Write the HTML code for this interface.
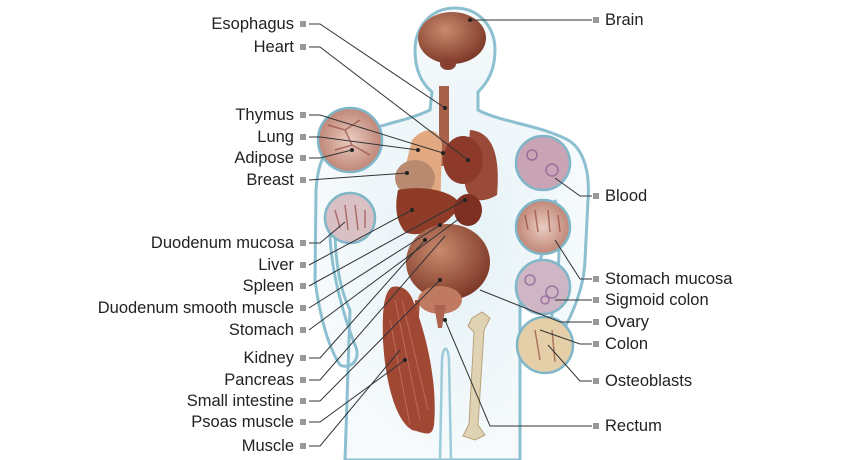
<!DOCTYPE html>
<html><head><meta charset="utf-8"><style>
html,body{margin:0;padding:0;background:#fff;}
#w{position:relative;width:860px;height:460px;overflow:hidden;font-family:"Liberation Sans",sans-serif;}
.l{position:absolute;font-size:16.5px;color:#222;line-height:20px;white-space:nowrap;}
.L{right:566px;text-align:right;}
.R{left:605px;}
</style></head><body><div id="w">
<svg width="860" height="460" style="position:absolute;left:0;top:0">
<defs>
<radialGradient id="glow" cx="50%" cy="50%" r="50%"><stop offset="0" stop-color="#e4f1f6"/><stop offset="1" stop-color="#f6fafc"/></radialGradient>
<radialGradient id="org" cx="40%" cy="35%" r="70%"><stop offset="0" stop-color="#c98a6e"/><stop offset="1" stop-color="#7a3524"/></radialGradient>
<radialGradient id="cir" cx="50%" cy="50%" r="50%"><stop offset="0" stop-color="#e9cdc2"/><stop offset="1" stop-color="#c08676"/></radialGradient>
</defs>
<path d="M455,8 C480,8 495,28 495,50 C495,70 488,82 478,92 L478,110 C500,122 540,125 568,140 C585,150 590,175 588,200 L585,260 C584,290 570,320 560,335 L552,340 C548,320 556,300 558,280 L560,220 L555,200 C548,240 540,270 520,300 L520,460 L345,460 L350,310 C340,290 335,260 335,230 L330,230 C330,270 345,320 355,345 C362,360 350,370 340,365 C330,350 320,320 315,280 L316,190 C318,160 325,145 350,135 C380,125 410,120 430,110 L432,92 C420,82 415,68 415,50 C415,28 430,8 455,8 Z" fill="url(#glow)" stroke="#8cc0d0" stroke-width="3"/>
<path d="M440,460 L442,360 C443,345 448,345 449,360 L451,460" fill="none" stroke="#9ccbd9" stroke-width="2.5"/>
<ellipse cx="452" cy="38" rx="34" ry="26" fill="url(#org)"/>
<ellipse cx="448" cy="64" rx="8" ry="6" fill="#8a4030"/>
<rect x="439" y="86" width="10" height="80" fill="#a7604a"/>
<path d="M412,140 C425,125 440,128 442,145 L440,215 C425,215 405,205 402,180 Z" fill="#e2a882"/>
<path d="M470,130 C495,132 500,160 497,195 C480,205 468,200 465,185 Z" fill="#9a4a38"/>
<ellipse cx="463" cy="160" rx="20" ry="24" fill="#8e3a2a"/>
<ellipse cx="415" cy="178" rx="20" ry="18" fill="#b98970"/>
<path d="M398,190 C420,185 455,190 460,205 C450,225 420,240 405,232 C395,220 395,205 398,190 Z" fill="#8e3c28"/>
<ellipse cx="468" cy="210" rx="14" ry="16" fill="#7d2f22"/>
<ellipse cx="450" cy="236" rx="22" ry="9" fill="#dba98c"/>
<ellipse cx="448" cy="262" rx="42" ry="38" fill="url(#org)"/>
<ellipse cx="440" cy="300" rx="22" ry="14" fill="#c07a62"/>
<path d="M434,305 L446,305 L442,328 L438,328 Z" fill="#b06250"/>
<path d="M415,300 L420,300 L418,330 L413,330 Z" fill="#a7503c"/>
<path d="M392,287 C402,285 408,290 412,298 C425,330 438,380 434,425 C432,438 425,433 412,430 C395,420 385,380 383,340 C382,310 384,292 392,287 Z" fill="#a14835"/>
<g stroke="#c27662" stroke-width="1" opacity="0.8"><line x1="395" y1="300" x2="420" y2="420"/><line x1="402" y1="300" x2="428" y2="410"/><line x1="390" y1="320" x2="410" y2="425"/></g>
<path d="M472,318 L482,312 L490,318 L484,330 L478,425 L485,435 L475,440 L463,436 L469,424 L474,332 L468,326 Z" fill="#e0d3b3" stroke="#b8a27c"/>
<g stroke="#7fb6c8" stroke-width="2.5">
<circle cx="350" cy="140" r="32" fill="url(#cir)"/>
<circle cx="350" cy="218" r="25" fill="#d9c0c4"/>
<circle cx="543" cy="163" r="27" fill="#c9a4b4"/>
<circle cx="543" cy="227" r="27" fill="url(#cir)"/>
<circle cx="543" cy="287" r="27" fill="#cfb6c4"/>
<circle cx="545" cy="345" r="28" fill="#e4cfa8"/>
</g>
<g fill="none" stroke="#8c3a2e" stroke-width="1.5" opacity="0.6">
<path d="M328,125 L345,130 L360,120 M335,150 L352,145 L370,155 M345,130 L352,145"/>
<path d="M335,210 L340,228 M345,205 L348,230 M355,205 L358,230 M365,210 L365,228"/>
<path d="M525,215 L528,230 M535,210 L538,232 M548,210 L550,232 M558,215 L560,232"/>
<path d="M535,330 L540,360 M552,330 L555,362"/>
</g>
<g fill="none" stroke="#7d4a8a" stroke-width="1.5" opacity="0.6">
<circle cx="532" cy="155" r="5"/><circle cx="552" cy="170" r="6"/><circle cx="530" cy="280" r="5"/><circle cx="552" cy="292" r="6"/><circle cx="545" cy="300" r="4"/>
</g>
<g stroke="#333" stroke-width="1" fill="none">
<polyline points="309,24 320,24 445,108"/>
<polyline points="309,47 320,47 468,160"/>
<polyline points="309,115 320,115 443,153"/>
<polyline points="309,137 320,137 418,150"/>
<polyline points="309,158 320,158 352,150"/>
<polyline points="309,180 407,173"/>
<polyline points="309,243 320,243 345,222"/>
<polyline points="309,265 412,210"/>
<polyline points="309,286 465,200"/>
<polyline points="309,308 440,225"/>
<polyline points="309,330 460,218"/>
<polyline points="309,358 320,358 425,240"/>
<polyline points="309,380 320,380 445,236"/>
<polyline points="309,401 320,401 440,280"/>
<polyline points="309,422 320,422 405,360"/>
<polyline points="309,446 320,446 400,350"/>
<polyline points="470,20 592,20"/>
<polyline points="555,178 580,196 592,196"/>
<polyline points="555,240 580,279 592,279"/>
<polyline points="555,300 580,300 592,300"/>
<polyline points="480,290 560,322 592,322"/>
<polyline points="540,330 580,344 592,344"/>
<polyline points="548,345 580,381 592,381"/>
<polyline points="445,320 490,426 592,426"/>
</g>
<g fill="#222">
<circle cx="445" cy="108" r="2"/><circle cx="468" cy="160" r="2"/><circle cx="443" cy="153" r="2"/><circle cx="418" cy="150" r="2"/><circle cx="352" cy="150" r="2"/><circle cx="407" cy="173" r="2"/><circle cx="412" cy="210" r="2"/><circle cx="465" cy="200" r="2"/><circle cx="440" cy="225" r="2"/><circle cx="425" cy="240" r="2"/><circle cx="440" cy="280" r="2"/><circle cx="405" cy="360" r="2"/><circle cx="470" cy="20" r="2"/><circle cx="445" cy="320" r="2"/>
</g>
<g fill="#999">
<rect x="300" y="21" width="6" height="6"/><rect x="300" y="44" width="6" height="6"/><rect x="300" y="112" width="6" height="6"/><rect x="300" y="134" width="6" height="6"/><rect x="300" y="155" width="6" height="6"/><rect x="300" y="177" width="6" height="6"/><rect x="300" y="240" width="6" height="6"/><rect x="300" y="262" width="6" height="6"/><rect x="300" y="283" width="6" height="6"/><rect x="300" y="305" width="6" height="6"/><rect x="300" y="327" width="6" height="6"/><rect x="300" y="355" width="6" height="6"/><rect x="300" y="377" width="6" height="6"/><rect x="300" y="398" width="6" height="6"/><rect x="300" y="419" width="6" height="6"/><rect x="300" y="443" width="6" height="6"/>
<rect x="593" y="17" width="6" height="6"/><rect x="593" y="193" width="6" height="6"/><rect x="593" y="276" width="6" height="6"/><rect x="593" y="297" width="6" height="6"/><rect x="593" y="319" width="6" height="6"/><rect x="593" y="341" width="6" height="6"/><rect x="593" y="378" width="6" height="6"/><rect x="593" y="423" width="6" height="6"/>
</g>
</svg>
<div class="l L" style="top:14px">Esophagus</div>
<div class="l L" style="top:37px">Heart</div>
<div class="l L" style="top:105px">Thymus</div>
<div class="l L" style="top:127px">Lung</div>
<div class="l L" style="top:148px">Adipose</div>
<div class="l L" style="top:170px">Breast</div>
<div class="l L" style="top:233px">Duodenum mucosa</div>
<div class="l L" style="top:255px">Liver</div>
<div class="l L" style="top:276px">Spleen</div>
<div class="l L" style="top:298px">Duodenum smooth muscle</div>
<div class="l L" style="top:320px">Stomach</div>
<div class="l L" style="top:348px">Kidney</div>
<div class="l L" style="top:370px">Pancreas</div>
<div class="l L" style="top:391px">Small intestine</div>
<div class="l L" style="top:412px">Psoas muscle</div>
<div class="l L" style="top:436px">Muscle</div>
<div class="l R" style="top:10px">Brain</div>
<div class="l R" style="top:186px">Blood</div>
<div class="l R" style="top:269px">Stomach mucosa</div>
<div class="l R" style="top:290px">Sigmoid colon</div>
<div class="l R" style="top:312px">Ovary</div>
<div class="l R" style="top:334px">Colon</div>
<div class="l R" style="top:371px">Osteoblasts</div>
<div class="l R" style="top:416px">Rectum</div>
</div></body></html>
